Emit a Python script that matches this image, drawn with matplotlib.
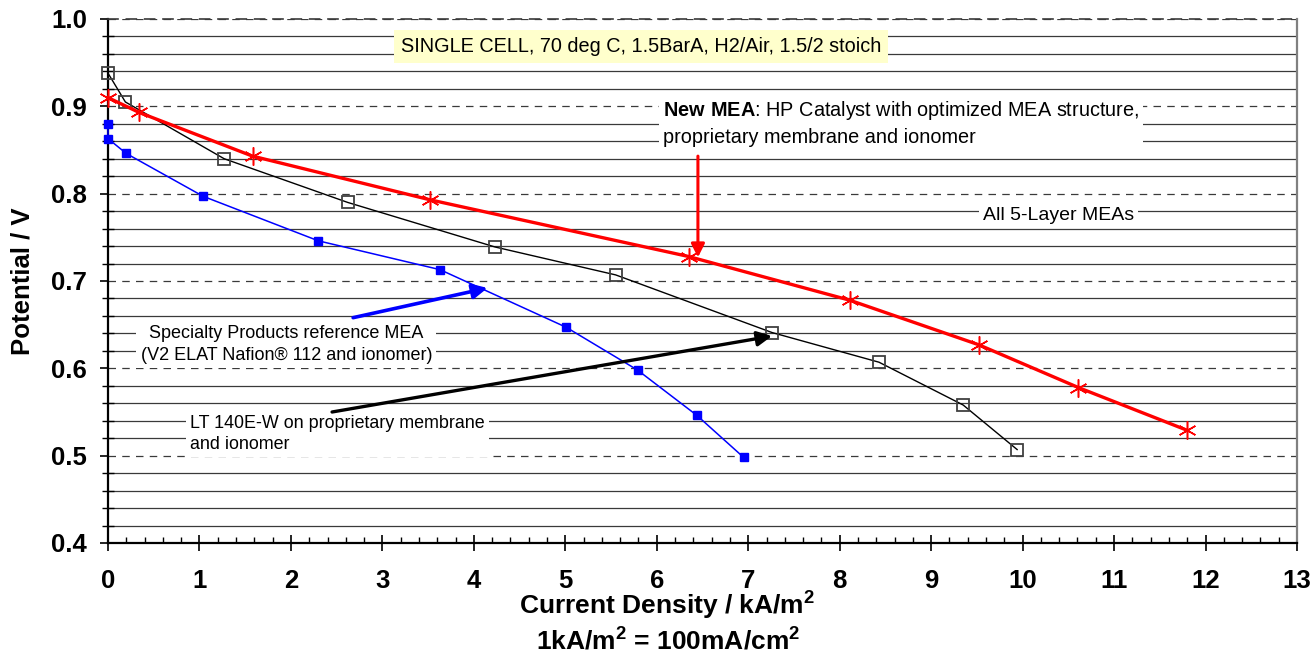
import matplotlib
matplotlib.use("Agg")
import matplotlib.pyplot as plt
from matplotlib.ticker import MultipleLocator

plt.rcParams["font.family"] = ["Liberation Sans", "DejaVu Sans"]
plt.rcParams["mathtext.fontset"] = "custom"
plt.rcParams["mathtext.rm"] = "Liberation Sans"
plt.rcParams["mathtext.bf"] = "Liberation Sans:bold"

# LT 140E-W on proprietary membrane and ionomer
lt_x = [0, 0.19, 1.27, 2.62, 4.23, 5.55, 7.26, 8.43, 9.35, 9.94]
lt_y = [0.938, 0.905, 0.840, 0.790, 0.739, 0.707, 0.641, 0.607, 0.558, 0.507]

# New MEA
new_x = [0, 0.34, 1.58, 3.52, 6.35, 8.11, 9.52, 10.61, 11.80]
new_y = [0.910, 0.893, 0.843, 0.793, 0.728, 0.678, 0.627, 0.578, 0.529]

# Specialty Products reference MEA
ref_x = [0, 0, 0.20, 1.04, 2.30, 3.63, 5.01, 5.79, 6.44, 6.95]
ref_y = [0.880, 0.863, 0.846, 0.797, 0.746, 0.713, 0.647, 0.598, 0.546, 0.498]

fig = plt.figure(figsize=(13.14, 6.54), dpi=100)
ax = fig.add_axes([108 / 1314, 1 - 543 / 654, 1189 / 1314, 524 / 654])

ax.plot(lt_x, lt_y, color="black", lw=1.0, marker="s", ms=9,
        mfc="none", mec="#404040", mew=1.3, zorder=5, clip_on=False)
ax.plot(ref_x, ref_y, color="#0000FF", lw=1.1, marker="s", ms=6,
        mfc="#0000FF", mec="#0000FF", zorder=5, clip_on=False)
ax.plot(new_x, new_y, color="#FF0000", lw=2.4, marker=(6, 2, 0), ms=13,
        mec="#FF0000", mew=1.1, zorder=6, clip_on=False)

ax.set_xlim(0, 13)
ax.set_ylim(0.4, 1.0)
ax.xaxis.set_major_locator(MultipleLocator(1))
ax.xaxis.set_minor_locator(MultipleLocator(0.2))
ax.yaxis.set_minor_locator(MultipleLocator(0.02))
ax.set_yticks([0.4, 0.5, 0.6, 0.7, 0.8, 0.9, 1.0])
ax.set_yticklabels(["0.4", "0.5", "0.6", "0.7", "0.8", "0.9", "1.0"])

ax.grid(which="minor", axis="y", color="#3a3a3a", lw=0.9, ls="-", zorder=1)
ax.grid(which="major", axis="y", color="#3a3a3a", lw=0.9, ls=(0, (6, 5)), zorder=1)
ax.set_axisbelow(True)

ax.tick_params(axis="x", which="major", direction="inout", length=12, width=1.2,
               labelsize=18.5, pad=13)
ax.tick_params(axis="x", which="minor", direction="in", length=4, width=1.0)
ax.tick_params(axis="y", which="major", direction="out", length=6, width=1.2,
               labelsize=18.5, pad=9)
ax.tick_params(axis="y", which="minor", direction="inout", length=9, width=1.0)
for lbl in ax.get_xticklabels() + ax.get_yticklabels():
    lbl.set_fontweight("bold")

ax.spines["left"].set_linewidth(1.6)
ax.spines["bottom"].set_linewidth(1.6)
ax.spines["right"].set_color("#808080")
ax.spines["right"].set_linewidth(1.6)
ax.spines["top"].set_color("#3a3a3a")
ax.spines["top"].set_linestyle((0, (6, 5)))
ax.spines["top"].set_linewidth(1.2)

white = dict(facecolor="white", edgecolor="none", pad=3)

ax.text(5.83, 0.968, "SINGLE CELL, 70 deg C, 1.5BarA, H2/Air, 1.5/2 stoich",
        fontsize=14.3, ha="center", va="center", zorder=4,
        bbox=dict(facecolor="#FFFFCC", edgecolor="none", pad=5))

ax.text(6.07, 0.881, r"$\mathbf{New\ MEA}$: HP Catalyst with optimized MEA structure," "\n"
        "proprietary membrane and ionomer",
        fontsize=14.3, ha="left", va="center", linespacing=1.35, zorder=4, bbox=white)

ax.text(10.39, 0.775, "All 5-Layer MEAs", fontsize=14, ha="center", va="center",
        zorder=4, bbox=white)

ax.text(1.95, 0.627, "Specialty Products reference MEA\n(V2 ELAT Nafion\u00ae 112 and ionomer)",
        fontsize=13, ha="center", va="center", linespacing=1.35, zorder=4, bbox=white)

ax.text(0.90, 0.525, "LT 140E-W on proprietary membrane\nand ionomer",
        fontsize=12.9, ha="left", va="center", linespacing=1.35, zorder=4, bbox=white)

ax.annotate("", xy=(6.45, 0.727), xytext=(6.45, 0.843),
            arrowprops=dict(arrowstyle="-|>", color="#FF0000", lw=2.2,
                            mutation_scale=20, shrinkA=0, shrinkB=0), zorder=7)
ax.annotate("", xy=(4.15, 0.692), xytext=(2.68, 0.658),
            arrowprops=dict(arrowstyle="-|>", color="#0000FF", lw=2.6,
                            mutation_scale=22, shrinkA=0, shrinkB=0), zorder=7)
ax.annotate("", xy=(7.26, 0.637), xytext=(2.45, 0.550),
            arrowprops=dict(arrowstyle="-|>", color="black", lw=2.4,
                            mutation_scale=22, shrinkA=0, shrinkB=0), zorder=7)

fig.text(23 / 1314, 1 - 281 / 654, "Potential / V", fontsize=18.5, fontweight="bold",
         rotation=90, ha="center", va="center")
fig.text(667 / 1314, 1 - 605 / 654, r"Current Density / kA/m$^\mathbf{2}$", fontsize=19,
         fontweight="bold", ha="center", va="center")
fig.text(668 / 1314, 1 - 640 / 654, r"1kA/m$^\mathbf{2}$ = 100mA/cm$^\mathbf{2}$", fontsize=19,
         fontweight="bold", ha="center", va="center")

fig.savefig("out.png", dpi=100)
